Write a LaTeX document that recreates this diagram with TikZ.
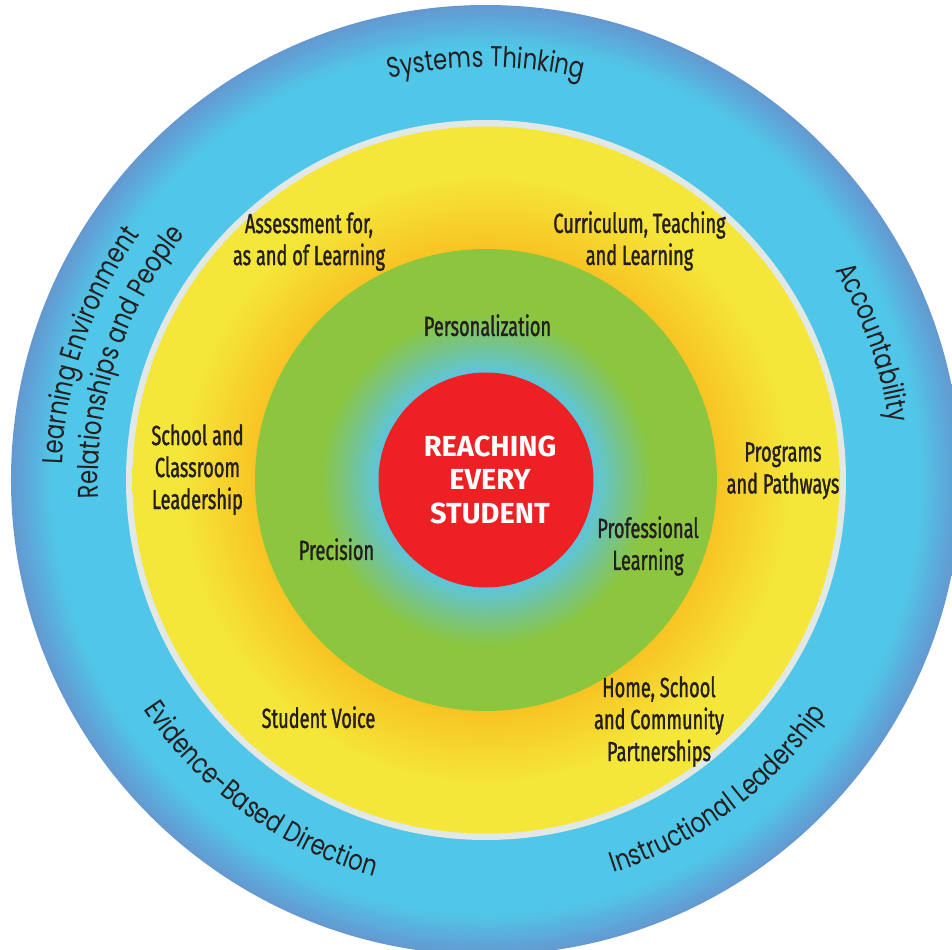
\documentclass[tikz,border=0pt]{standalone}
\usepackage{fontspec}
\usepackage{tikz}
\usetikzlibrary{decorations.text}

\newfontfamily\ringfont[FakeStretch=0.79]{Poppins}
\newfontfamily\bandfont[FakeStretch=0.66,FakeBold=1.2]{Fira Sans}
\newfontfamily\corefont[FakeStretch=1.0]{Fira Sans}

\definecolor{ringcyan}{RGB}{80,199,232}
\definecolor{ringblue}{RGB}{100,152,208}
\definecolor{ringgrey}{RGB}{226,232,230}
\definecolor{sunlight}{RGB}{245,230,58}
\definecolor{sundeep}{RGB}{248,196,36}
\definecolor{sunmid}{RGB}{246,214,46}
\definecolor{leafgreen}{RGB}{140,198,63}
\definecolor{leafmid}{RGB}{118,196,140}
\definecolor{leafteal}{RGB}{94,197,216}
\definecolor{corered}{RGB}{237,32,36}
\definecolor{inkdark}{RGB}{35,31,32}

\pgfdeclareradialshading{ringshade}{\pgfpoint{0bp}{0bp}}{color(0bp)=(ringcyan); color(22.8bp)=(ringcyan); color(25bp)=(ringblue); color(50bp)=(ringblue)}
\pgfdeclareradialshading{sunshade}{\pgfpoint{0bp}{0bp}}{color(0bp)=(sundeep); color(16.4bp)=(sundeep); color(19bp)=(sunmid); color(21.5bp)=(sunlight); color(25bp)=(sunlight); color(50bp)=(sunlight)}
\pgfdeclareradialshading{leafshade}{\pgfpoint{0bp}{0bp}}{color(0bp)=(leafteal); color(11.8bp)=(leafteal); color(14.8bp)=(leafmid); color(18bp)=(leafgreen); color(25bp)=(leafgreen); color(50bp)=(leafgreen)}

\newcommand{\ringstyle}{\ringfont\fontsize{16.3}{19}\selectfont\color{inkdark}}

\begin{document}
\begin{tikzpicture}[
    bandlabel/.style={inner sep=0pt, align=center, anchor=north, text=inkdark, font=\bandfont\fontsize{15.7}{18.2}\selectfont},
    corelabel/.style={inner sep=0pt, align=center, anchor=north, text=white, font=\corefont\bfseries\fontsize{16.5}{18.8}\selectfont},
    ringtext/.style={decorate, decoration={text along path, text align=center, text={|\ringstyle|#1}}}
  ]
  \clip (-9.72,-9.38) rectangle (9.32,9.6);
  \shade [shading=ringshade] (0,0) circle [radius=9.5];
  \fill [ringgrey] (0,0) circle [radius=7.2];
  \shade [shading=sunshade] (0,0) circle [radius=7.07];
  \shade [shading=leafshade] (0,0) circle [radius=4.62];
  \fill [corered] (0,0) circle [radius=2.15];

  \path [ringtext={Systems Thinking}] (135:8.26) arc [start angle=135, end angle=45, radius=8.26];
  \path [ringtext={Accountability}] (64.5:8.14) arc [start angle=64.5, end angle=-25.5, radius=8.14];
  \path [ringtext={Instructional Leadership}] (-98.2:8.26) arc [start angle=-98.2, end angle=-8.2, radius=8.26];
  \path [ringtext={Evidence-Based Direction}] (189:8.24) arc [start angle=189, end angle=279, radius=8.24];
  \path [ringtext={Learning Environment}] (206.3:8.48) arc [start angle=206.3, end angle=116.3, radius=8.48];
  \path [ringtext={Relationships and People}] (206.8:7.76) arc [start angle=206.8, end angle=116.8, radius=7.76];

  \node [bandlabel](assess) at (-3.54,5.36) {Assessment for,\\as and of Learning};
  \node [bandlabel](curric) at (3.07,5.38) {Curriculum, Teaching\\and Learning};
  \node [bandlabel](school) at (-5.77,1.12) {School and\\Classroom\\Leadership};
  \node [bandlabel](programs) at (5.94,0.76) {Programs\\and Pathways};
  \node [bandlabel](voice) at (-3.35,-4.52) {Student Voice};
  \node [bandlabel](home) at (3.46,-3.92) {Home, School\\and Community\\Partnerships};

  \node [bandlabel](personal) at (0.03,3.32) {Personalization};
  \node [bandlabel](precision) at (-2.99,-1.16) {Precision};
  \node [bandlabel](proflearn) at (3.24,-0.72) {Professional\\Learning};

  \node [corelabel](core) at (0.08,0.88) {REACHING\\EVERY\\STUDENT};
\end{tikzpicture}
\end{document}
